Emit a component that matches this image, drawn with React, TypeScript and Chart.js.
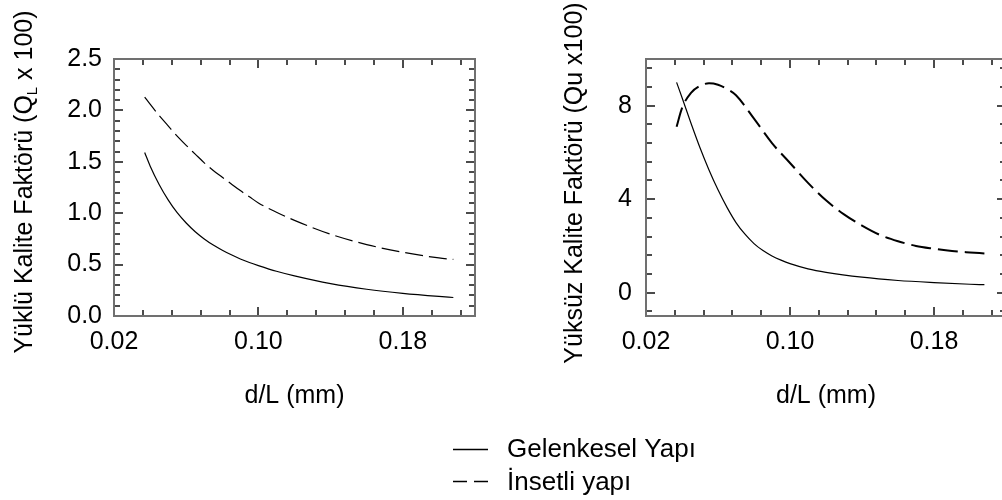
import React, { useEffect, useRef } from "react";
import { Chart, registerables } from "chart.js";

Chart.register(...registerables);

const FONT = '"Liberation Sans", Arial, Helvetica, sans-serif';

// ---- data ----
const leftX = [0.037, 0.04, 0.045, 0.05, 0.055, 0.06, 0.065, 0.07, 0.075, 0.08, 0.085, 0.09, 0.095, 0.10, 0.11, 0.12, 0.14, 0.16, 0.18, 0.20, 0.208];
const leftSolid = [1.59, 1.46, 1.28, 1.13, 1.005, 0.905, 0.82, 0.75, 0.69, 0.64, 0.595, 0.555, 0.52, 0.49, 0.435, 0.39, 0.315, 0.26, 0.22, 0.19, 0.18];
const leftDashed = [2.13, 2.06, 1.95, 1.85, 1.75, 1.66, 1.575, 1.49, 1.415, 1.35, 1.285, 1.22, 1.16, 1.10, 1.01, 0.93, 0.795, 0.695, 0.62, 0.565, 0.55];

const rightSolidX = [0.037, 0.04, 0.045, 0.05, 0.055, 0.06, 0.065, 0.07, 0.075, 0.08, 0.085, 0.09, 0.095, 0.10, 0.11, 0.12, 0.14, 0.16, 0.18, 0.20, 0.208];
const rightSolid = [9.0, 8.35, 7.25, 6.2, 5.25, 4.4, 3.65, 3.0, 2.5, 2.1, 1.8, 1.57, 1.39, 1.24, 1.02, 0.87, 0.66, 0.52, 0.43, 0.36, 0.34];
const rightDashedX = [0.037, 0.04, 0.045, 0.05, 0.055, 0.06, 0.065, 0.07, 0.08, 0.09, 0.10, 0.11, 0.12, 0.13, 0.14, 0.15, 0.16, 0.17, 0.18, 0.19, 0.20, 0.208];
const rightDashed = [7.1, 7.9, 8.55, 8.85, 8.96, 8.9, 8.72, 8.45, 7.45, 6.4, 5.55, 4.7, 3.95, 3.35, 2.87, 2.47, 2.2, 2.0, 1.88, 1.78, 1.72, 1.68];

const seriesNames = ["Gelenkesel Yapı", "İnsetli yapı"];

// ---- tick labels ----
const xTickValues = [0.02, 0.10, 0.18];
const xTickLabels = ["0.02", "0.10", "0.18"];
const leftYTickValues = [0, 0.5, 1.0, 1.5, 2.0, 2.5];
const leftYTickLabels = ["0.0", "0.5", "1.0", "1.5", "2.0", "2.5"];
const rightYTickValues = [0, 4, 8];
const rightYTickLabels = ["0", "4", "8"];

const xTitle = "d/L (mm)";

// ---- plugins ----
const frameTicksPlugin = {
  id: "frameTicks",
  afterDraw(chart: any, _args: any, opts: any) {
    const { ctx, chartArea: a, scales } = chart;
    const xs = scales.x;
    const ys = scales.y;
    ctx.save();
    ctx.strokeStyle = "#111";
    ctx.lineWidth = 1.5;
    ctx.beginPath();
    for (let k = opts.xk[0]; k <= opts.xk[1]; k++) {
      const v = opts.xOrigin + k * opts.xStep;
      const px = Math.round(xs.getPixelForValue(v));
      const len = k % 5 === 0 ? 9 : 6;
      ctx.moveTo(px, a.bottom);
      ctx.lineTo(px, a.bottom - len);
      ctx.moveTo(px, a.top);
      ctx.lineTo(px, a.top + len);
    }
    for (let k = opts.yk[0]; k <= opts.yk[1]; k++) {
      const v = opts.yOrigin + k * opts.yStep;
      const py = Math.round(ys.getPixelForValue(v));
      const len = k % 5 === 0 ? 9 : 6;
      ctx.moveTo(a.left, py);
      ctx.lineTo(a.left + len, py);
      ctx.moveTo(a.right, py);
      ctx.lineTo(a.right - len, py);
    }
    ctx.stroke();
    ctx.strokeStyle = "#707070";
    ctx.lineWidth = 2;
    ctx.strokeRect(a.left, a.top, a.right - a.left, a.bottom - a.top);
    ctx.restore();
  },
};

const yTitlePlugin = {
  id: "yTitle",
  afterDraw(chart: any, _args: any, opts: any) {
    const { ctx } = chart;
    const parts = opts.parts as { t: string; s: number; dy: number }[];
    ctx.save();
    ctx.fillStyle = "#000";
    ctx.textBaseline = "alphabetic";
    ctx.textAlign = "left";
    let total = 0;
    const widths = parts.map((p) => {
      ctx.font = `${p.s}px ${FONT}`;
      const w = ctx.measureText(p.t).width;
      total += w;
      return w;
    });
    ctx.translate(opts.x, opts.cy);
    ctx.rotate(-Math.PI / 2);
    let x = -total / 2;
    parts.forEach((p, i) => {
      ctx.font = `${p.s}px ${FONT}`;
      ctx.fillText(p.t, x, p.dy);
      x += widths[i];
    });
    ctx.restore();
  },
};

const legendPlugin = {
  id: "customLegend",
  afterDraw(chart: any, _args: any, opts: any) {
    if (!opts || !opts.show) return;
    const { ctx } = chart;
    ctx.save();
    ctx.strokeStyle = "#000";
    ctx.lineWidth = 1.3;
    ctx.beginPath();
    ctx.moveTo(453, 449.5);
    ctx.lineTo(488, 449.5);
    ctx.stroke();
    ctx.setLineDash([14, 7]);
    ctx.lineWidth = 1.6;
    ctx.beginPath();
    ctx.moveTo(453, 481.5);
    ctx.lineTo(488, 481.5);
    ctx.stroke();
    ctx.setLineDash([]);
    ctx.fillStyle = "#000";
    ctx.font = `26px ${FONT}`;
    ctx.textBaseline = "alphabetic";
    ctx.textAlign = "left";
    ctx.fillText(seriesNames[0], 507, 456.5);
    ctx.fillText(seriesNames[1], 507, 490);
    ctx.restore();
  },
};

function makeConfig(opts: {
  solidX: number[];
  solidY: number[];
  dashedX: number[];
  dashedY: number[];
  solidWidth: number;
  dashedWidth: number;
  dash: number[];
  yMin: number;
  yMax: number;
  yTicks: number[];
  yLabels: string[];
  padLeft: number;
  padRight: number;
  yWidth: number;
  yPad: number;
  frame: any;
  ytitle: any;
  legend: boolean;
}) {
  const tickFont = { family: FONT, size: 25 };
  return {
    type: "line" as const,
    data: {
      datasets: [
        {
          label: seriesNames[0],
          data: opts.solidX.map((x, i) => ({ x, y: opts.solidY[i] })),
          borderColor: "#000",
          borderWidth: opts.solidWidth,
          pointRadius: 0,
          fill: false,
          cubicInterpolationMode: "monotone" as const,
        },
        {
          label: seriesNames[1],
          data: opts.dashedX.map((x, i) => ({ x, y: opts.dashedY[i] })),
          borderColor: "#000",
          borderWidth: opts.dashedWidth,
          borderDash: opts.dash,
          pointRadius: 0,
          fill: false,
          cubicInterpolationMode: "monotone" as const,
        },
      ],
    },
    options: {
      responsive: false,
      animation: false as const,
      events: [],
      layout: { padding: { left: opts.padLeft, top: 59, right: opts.padRight, bottom: 84 } },
      plugins: {
        legend: { display: false },
        tooltip: { enabled: false },
        frameTicks: opts.frame,
        yTitle: opts.ytitle,
        customLegend: { show: opts.legend },
      },
      scales: {
        x: {
          type: "linear" as const,
          min: 0.02,
          max: 0.22,
          afterBuildTicks: (s: any) => {
            s.ticks = xTickValues.map((v) => ({ value: v }));
          },
          afterFit: (s: any) => {
            s.height = 100;
          },
          grid: { display: false, drawTicks: false },
          border: { display: false },
          ticks: {
            padding: 11,
            autoSkip: false,
            maxRotation: 0,
            color: "#000",
            font: tickFont,
            callback: (_v: any, i: number) => xTickLabels[i],
          },
          title: {
            display: true,
            text: xTitle,
            color: "#000",
            font: { family: FONT, size: 25 },
            padding: { top: 0, bottom: 5 },
          },
        },
        y: {
          type: "linear" as const,
          min: opts.yMin,
          max: opts.yMax,
          afterBuildTicks: (s: any) => {
            s.ticks = opts.yTicks.map((v) => ({ value: v }));
          },
          afterFit: (s: any) => {
            s.width = opts.yWidth;
          },
          grid: { display: false, drawTicks: false },
          border: { display: false },
          ticks: {
            padding: opts.yPad,
            autoSkip: false,
            color: "#000",
            font: tickFont,
            callback: (_v: any, i: number) => opts.yLabels[i],
          },
        },
      },
    },
    plugins: [frameTicksPlugin, yTitlePlugin, legendPlugin],
  };
}

export default function App() {
  const leftRef = useRef<HTMLCanvasElement | null>(null);
  const rightRef = useRef<HTMLCanvasElement | null>(null);

  useEffect(() => {
    if (!leftRef.current || !rightRef.current) return;
    const left = new Chart(
      leftRef.current,
      makeConfig({
        solidX: leftX,
        solidY: leftSolid,
        dashedX: leftX,
        dashedY: leftDashed,
        solidWidth: 1.2,
        dashedWidth: 1.2,
        dash: [18, 6],
        yMin: 0,
        yMax: 2.5,
        yTicks: leftYTickValues,
        yLabels: leftYTickLabels,
        padLeft: 0,
        padRight: 527,
        yWidth: 114,
        yPad: 12,
        frame: { xOrigin: 0.02, xStep: 0.016, xk: [0, 12], yOrigin: 0, yStep: 0.1, yk: [0, 25] },
        ytitle: {
          x: 31.5,
          cy: 182,
          parts: [
            { t: "Yüklü Kalite Faktörü (Q", s: 25, dy: 0 },
            { t: "L", s: 15, dy: 5 },
            { t: " x 100)", s: 25, dy: 0 },
          ],
        },
        legend: false,
      }) as any
    );
    const right = new Chart(
      rightRef.current,
      makeConfig({
        solidX: rightSolidX,
        solidY: rightSolid,
        dashedX: rightDashedX,
        dashedY: rightDashed,
        solidWidth: 1.2,
        dashedWidth: 2,
        dash: [20, 7],
        yMin: -1,
        yMax: 10,
        yTicks: rightYTickValues,
        yLabels: rightYTickLabels,
        padLeft: 540,
        padRight: 14,
        yWidth: 106,
        yPad: 14,
        frame: { xOrigin: 0.02, xStep: 0.016, xk: [0, 12], yOrigin: 0, yStep: 0.8, yk: [-1, 12] },
        ytitle: {
          x: 582,
          cy: 183,
          parts: [{ t: "Yüksüz Kalite Faktörü (Qu x100)", s: 25, dy: 0 }],
        },
        legend: true,
      }) as any
    );
    return () => {
      left.destroy();
      right.destroy();
    };
  }, []);

  return (
    <div
      style={{
        position: "fixed",
        left: 0,
        top: 0,
        width: 1002,
        height: 500,
        overflow: "hidden",
        background: "#fff",
      }}
    >
      <canvas ref={leftRef} width={1002} height={500} style={{ position: "absolute", left: 0, top: 0 }} />
      <canvas ref={rightRef} width={1020} height={500} style={{ position: "absolute", left: 0, top: 0 }} />
    </div>
  );
}
